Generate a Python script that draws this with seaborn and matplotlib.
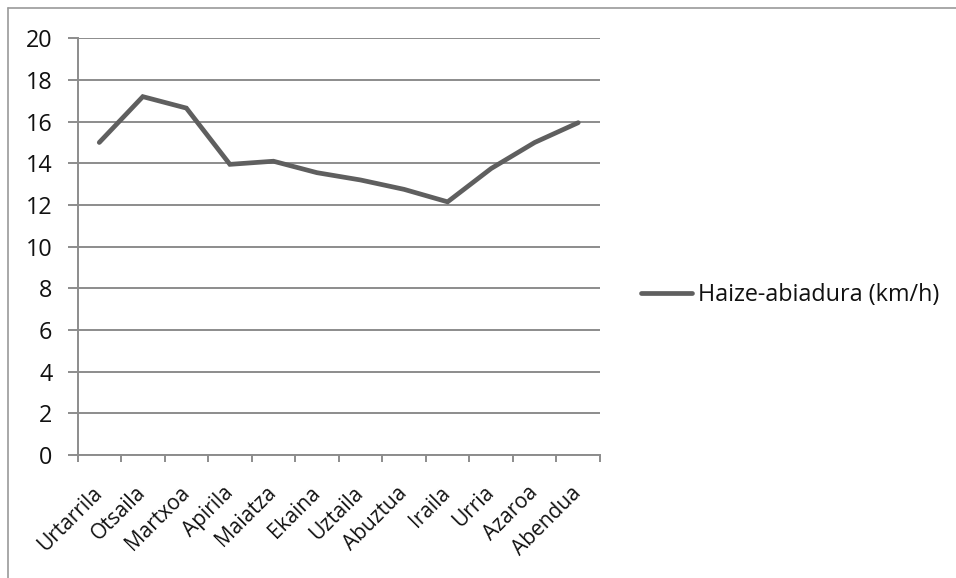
import matplotlib
matplotlib.use("Agg")
import matplotlib.pyplot as plt
from matplotlib.lines import Line2D
from matplotlib.ticker import FixedLocator
from matplotlib.transforms import ScaledTranslation
import seaborn as sns
import pandas as pd

months = ["Urtarrila", "Otsaila", "Martxoa", "Apirila", "Maiatza", "Ekaina",
          "Uztaila", "Abuztua", "Iraila", "Urria", "Azaroa", "Abendua"]
wind_speed = [15.0, 17.2, 16.65, 13.95, 14.1, 13.55, 13.2, 12.75, 12.15, 13.75, 15.0, 15.95]
series_name = "Haize-abiadura (km/h)"
y_ticks = [0, 2, 4, 6, 8, 10, 12, 14, 16, 18, 20]

sns.set_theme(style="white")
plt.rcParams["font.family"] = ["Open Sans", "DejaVu Sans"]

FS = 16.8
FS_X = 15
W, H = 956, 578
fig = plt.figure(figsize=(W / 100, H / 100), dpi=100)
left, right, top, bottom = 77.5, 600, 38.3, 455
ax = fig.add_axes([left / W, 1 - bottom / H, (right - left) / W, (bottom - top) / H])

df = pd.DataFrame({"Hilabetea": months, series_name: wind_speed})
df["pos"] = range(len(months))

grid_col = "#8c8c8c"
line_col = "#5f5f5f"
text_col = "#111111"

sns.lineplot(data=df, x="pos", y=series_name, ax=ax, color=line_col,
             linewidth=3.4, solid_capstyle="round", solid_joinstyle="miter",
             sort=False, zorder=3)

ax.set_xlim(-0.5, len(months) - 0.5)
ax.set_ylim(0, 20)
ax.set_yticks(y_ticks)
ax.set_yticklabels([str(v) for v in y_ticks], fontsize=FS, color=text_col)
ax.set_xticks(range(len(months)))
ax.set_xticklabels(months, rotation=45, ha="right", va="center",
                   rotation_mode="anchor", fontsize=FS_X, color=text_col)
shift = ScaledTranslation(8 / 100, 0, fig.dpi_scale_trans)
for lbl in ax.get_xticklabels():
    lbl.set_transform(lbl.get_transform() + shift)
ax.xaxis.set_minor_locator(FixedLocator([i - 0.5 for i in range(len(months) + 1)]))
ax.set_xlabel("")
ax.set_ylabel("")

ax.grid(axis="y", color=grid_col, linewidth=1.4)
ax.set_axisbelow(True)
for side in ["top", "right"]:
    ax.spines[side].set_visible(False)
for side in ["left", "bottom"]:
    ax.spines[side].set_color(grid_col)
    ax.spines[side].set_linewidth(1.4)

ax.tick_params(axis="y", which="major", left=True, length=7, width=1.4,
               color=grid_col, pad=11)
ax.tick_params(axis="x", which="major", bottom=False, pad=19)
ax.tick_params(axis="x", which="minor", bottom=True, length=5, width=1.4,
               color=grid_col)

handle = Line2D([0], [0], color=line_col, linewidth=3.4, solid_capstyle="round")
fig.legend([handle], [series_name], loc="center left",
           bbox_to_anchor=(641 / W, 1 - 295 / H), frameon=False,
           fontsize=FS, handlelength=2.2, handletextpad=0.25,
           borderpad=0, borderaxespad=0, labelcolor=text_col)

# outer chart frame (left and top edges)
fig.add_artist(Line2D([8 / W, 8 / W], [0, 1 - 8 / H], transform=fig.transFigure,
                      color="#9a9a9a", linewidth=1.2))
fig.add_artist(Line2D([8 / W, 1], [1 - 8 / H, 1 - 8 / H], transform=fig.transFigure,
                      color="#9a9a9a", linewidth=1.2))

fig.savefig("out.png", dpi=100, facecolor="white")
